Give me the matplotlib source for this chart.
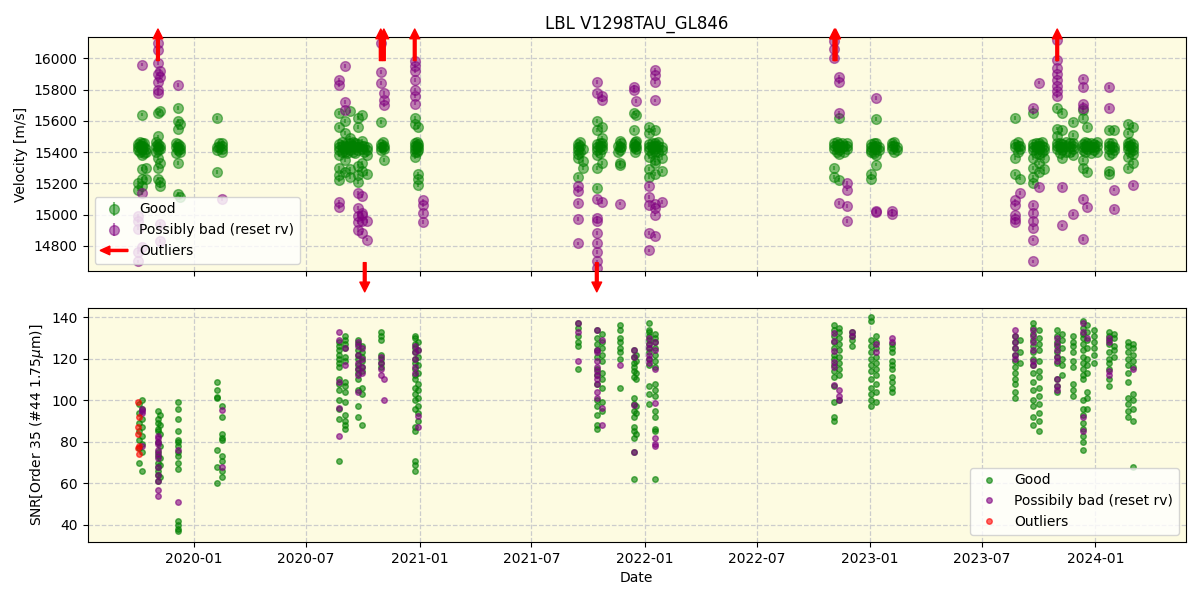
import numpy as np
import pandas as pd
import matplotlib
matplotlib.use("Agg")
import matplotlib.pyplot as plt
import matplotlib.dates as mdates
import matplotlib.patches as mpatches
from matplotlib.legend_handler import HandlerPatch

# ---------------- velocity panel data (per night) ----------------
good_rv_nights = [
    "2019-10-03", "2019-10-09", "2019-10-15", "2019-11-04", "2019-11-07",
    "2019-12-06", "2019-12-09", "2020-02-07", "2020-02-15",
    "2020-08-24", "2020-09-02", "2020-09-10", "2020-09-23", "2020-09-29",
    "2020-10-07", "2020-10-31", "2020-11-05", "2020-12-24", "2020-12-30",
    "2021-09-14", "2021-09-22", "2021-10-16", "2021-10-24", "2021-11-21",
    "2021-12-14", "2021-12-18", "2022-01-08", "2022-01-17", "2022-01-28",
    "2022-11-04", "2022-11-12", "2022-11-24", "2023-01-03", "2023-01-11",
    "2023-01-16", "2023-02-06", "2023-02-13",
    "2023-08-24", "2023-09-01", "2023-09-22", "2023-10-02", "2023-10-10",
    "2023-10-31", "2023-11-08", "2023-11-25", "2023-12-11", "2023-12-19",
    "2023-12-30", "2024-01-23", "2024-01-31", "2024-02-22", "2024-03-02",
    # extra nights filling the dense blobs near 15430 m/s
    "2019-10-06", "2019-10-12", "2019-11-01", "2019-12-03", "2020-02-11",
    "2020-08-28", "2020-09-06", "2020-09-15", "2020-09-19", "2020-10-03",
    "2020-11-02", "2020-12-27",
    "2021-09-18", "2021-10-20", "2021-11-18", "2021-11-24", "2021-12-16",
    "2022-01-12", "2022-01-22",
    "2022-11-08", "2022-11-16", "2022-11-20", "2023-01-07", "2023-02-09",
    "2023-08-28", "2023-09-26", "2023-10-06", "2023-11-04", "2023-11-15",
    "2023-11-20", "2023-12-15", "2023-12-25", "2024-01-03", "2024-01-27",
    "2024-02-26",
]
good_rv = [
    [15430, 15410, 15450, 15160, 15200],
    [15440, 15420, 15460, 15640, 15290, 15230, 15180, 15380],
    [15420, 15400, 15300, 15230],
    [15430, 15410, 15450, 15650, 15360, 15300, 15500, 15230],
    [15420, 15440, 15660, 15330, 15185, 15210],
    [15430, 15410, 15450, 15680, 15600, 15550, 15330, 15130],
    [15420, 15440, 15400, 15580, 15110],
    [15430, 15410, 15620, 15270],
    [15440, 15420, 15460, 15400],
    [15430, 15410, 15450, 15650, 15560, 15300, 15250, 15220, 15380],
    [15440, 15420, 15400, 15600, 15520, 15270, 15350],
    [15430, 15460, 15410, 15660, 15490, 15240, 15290],
    [15430, 15410, 15450, 15620, 15560, 15310, 15250, 15210],
    [15420, 15440, 15470, 15640, 15280, 15330],
    [15430, 15410, 15380, 15260],
    [15430, 15450, 15410, 15590],
    [15420, 15440, 15350],
    [15440, 15420, 15460, 15400, 15620, 15580, 15370],
    [15430, 15450, 15410, 15560, 15260, 15230, 15190],
    [15430, 15410, 15450, 15390, 15360, 15240],
    [15420, 15300, 15340],
    [15430, 15410, 15380, 15600, 15540, 15300, 15170, 15450],
    [15440, 15420, 15460, 15560, 15330, 15490],
    [15430, 15410, 15470, 15330, 15320],
    [15430, 15450, 15650, 15540],
    [15440, 15420, 15640, 15470],
    [15430, 15410, 15450, 15560, 15370, 15290, 15240, 15520],
    [15440, 15420, 15460, 15400, 15540, 15330, 15260, 15350],
    [15430, 15410, 15360, 15280],
    [15440, 15420, 15460, 15300, 15240],
    [15430, 15410, 15450, 15620, 15390, 15220],
    [15440, 15420, 15460],
    [15430, 15410, 15450, 15400, 15260, 15230],
    [15440, 15420, 15460, 15610, 15320, 15380],
    [15430, 15410],
    [15440, 15420, 15460],
    [15430, 15410],
    [15430, 15450, 15620, 15360, 15260],
    [15440, 15420, 15230],
    [15430, 15410, 15450, 15650, 15360, 15300, 15240, 15200],
    [15440, 15420, 15460, 15390, 15330, 15270],
    [15430, 15410, 15360, 15290],
    [15440, 15420, 15460, 15680, 15550, 15500],
    [15430, 15450, 15410, 15650, 15540, 15360],
    [15440, 15420, 15460, 15590, 15510, 15380],
    [15430, 15410, 15450, 15670, 15620, 15350, 15300],
    [15440, 15420, 15460, 15560, 15270],
    [15430, 15410, 15450],
    [15440, 15420, 15460, 15540, 15280, 15260, 15380],
    [15430, 15410, 15540],
    [15440, 15420, 15460, 15580, 15520, 15370, 15300],
    [15430, 15410, 15450, 15560, 15330, 15390],
    [15440, 15400, 15465], [15430, 15395, 15460], [15440, 15400, 15465],
    [15435, 15395, 15460], [15430, 15460],
    [15440, 15400, 15465], [15435, 15395, 15460], [15440, 15400, 15465],
    [15430, 15395, 15460], [15440, 15400],
    [15435, 15465], [15440, 15400, 15465],
    [15440, 15400, 15465], [15435, 15395, 15460], [15440, 15400],
    [15430, 15460], [15440, 15400, 15465],
    [15435, 15395, 15460], [15440, 15400, 15465],
    [15440, 15400, 15465], [15435, 15460], [15440, 15400],
    [15435, 15395, 15460], [15440, 15400, 15465],
    [15440, 15400, 15465], [15435, 15395, 15460], [15440, 15400, 15465],
    [15435, 15395, 15460], [15440, 15400, 15465],
    [15435, 15460, 15400], [15440, 15400, 15465], [15435, 15395, 15460],
    [15440, 15400, 15465], [15435, 15395, 15460],
    [15440, 15400, 15465],
]

bad_rv_nights = [
    "2019-10-03", "2019-10-09", "2019-11-04", "2019-11-07", "2019-12-06", "2020-02-15",
    "2020-08-24", "2020-09-02", "2020-09-23", "2020-09-29", "2020-10-07",
    "2020-10-31", "2020-11-05", "2020-12-24", "2021-01-07",
    "2021-09-14", "2021-10-16", "2021-10-24", "2021-11-21", "2021-12-14",
    "2021-12-18", "2022-01-08", "2022-01-17", "2022-01-28",
    "2022-11-04", "2022-11-12", "2022-11-24", "2023-01-11", "2023-02-06",
    "2023-08-24", "2023-09-01", "2023-09-22", "2023-10-02", "2023-10-31",
    "2023-11-08", "2023-11-25", "2023-12-11", "2023-12-19", "2024-01-23",
    "2024-01-31", "2024-03-02",
]
bad_rv = [
    [14990, 14960, 14700, 14760, 14910],
    [15960, 15140, 14790],
    [15900, 15850, 15800, 16050, 16100, 15780, 15970],
    [15920, 15880, 14940, 14830],
    [15830],
    [15100],
    [15860, 15830, 15050, 15080],
    [15950, 15720, 15670],
    [15140, 15040, 14990, 14950, 14900],
    [15120, 15000, 15010, 14960, 14880],
    [14840, 14960],
    [16100, 15910, 15840],
    [15780, 15730, 15700],
    [15985, 15950, 15920, 15860, 15800, 15760, 15710],
    [15090, 15060, 15010, 14950],
    [15180, 15150, 15075, 14970, 14815],
    [15850, 15780, 15100, 14980, 14960, 14880, 14820, 14760, 14700, 14660],
    [15760, 15730, 15080],
    [15070],
    [15815, 15795],
    [15725],
    [15185, 15110, 15060, 14880, 14770],
    [15925, 15890, 15850, 15730, 15070, 15040, 15000, 14865],
    [15080],
    [16110, 16060, 16000],
    [15880, 15850, 15650, 15075],
    [15200, 15160, 15055, 14960],
    [15745, 15025, 15015],
    [15025, 15005],
    [15060, 15000, 14970, 15090, 14950],
    [15140],
    [15680, 15060, 15010, 14960, 14915, 14840, 14700],
    [15175, 15845],
    [16120, 15990, 15940, 15900, 15860, 15820, 15790, 15760],
    [15175, 14930],
    [15005],
    [15870, 15815, 15710, 15680, 15100, 14845],
    [15050],
    [15815, 15680],
    [15160, 15035],
    [15190],
]

# outliers outside the velocity range (drawn as arrows)
up_outlier_dates = ["2019-11-04", "2020-10-30", "2020-11-04", "2020-12-24",
                    "2022-11-04", "2022-11-06", "2023-10-31"]
down_outlier_dates = ["2020-10-04", "2021-10-15"]

# ---------------- SNR panel data (per night) ----------------
good_snr_nights = [
    "2019-10-05", "2019-10-09", "2019-11-04", "2019-11-07", "2019-12-06",
    "2020-02-07", "2020-02-15",
    "2020-08-24", "2020-09-02", "2020-09-23", "2020-09-29", "2020-10-31",
    "2020-12-24", "2020-12-30",
    "2021-09-14", "2021-10-16", "2021-10-24", "2021-11-21", "2021-12-14",
    "2021-12-18", "2022-01-08", "2022-01-17",
    "2022-11-04", "2022-11-12", "2022-12-03", "2023-01-03", "2023-01-11",
    "2023-02-06",
    "2023-08-24", "2023-09-01", "2023-09-22", "2023-10-02", "2023-10-31",
    "2023-11-08", "2023-11-25", "2023-12-11", "2023-12-19", "2023-12-30",
    "2024-01-23", "2024-01-31", "2024-02-22", "2024-03-02",
]
good_snr = [
    [98, 94, 89, 85, 81, 77, 70],
    [100, 96, 91, 87, 83, 79, 75, 66],
    [95, 91, 89, 86, 85, 80, 75, 73, 70, 68, 66, 64, 61],
    [93, 88, 84, 78, 72, 69, 63],
    [99, 96, 91, 85, 81, 80, 78, 75, 73, 70, 67, 42, 40, 38, 37],
    [109, 105, 101.5, 101, 76, 68, 60],
    [97, 92, 84, 82, 81, 73, 71, 66, 63],
    [128, 126, 124, 122, 120, 118, 116, 110, 108, 105, 100, 96, 91, 71],
    [131, 129, 127, 125, 121, 119, 109, 107, 104, 99, 93, 90, 88, 86],
    [129, 127, 124, 122, 120, 117, 115, 113, 110, 105, 97, 92],
    [126, 123, 121, 119, 116, 114, 106, 103, 88],
    [133, 131, 129, 122, 120, 118, 116],
    [131, 130, 127, 125, 123, 120, 118, 115, 112, 110, 106, 103, 100, 96, 87, 85, 71, 69, 66],
    [128, 124, 121, 117, 113, 108, 105, 101, 97, 94, 90],
    [137, 135, 131, 128, 126, 115],
    [134, 130, 127, 124, 121, 115, 112, 108, 100, 97, 93, 88, 86],
    [132, 128, 125, 122, 119, 113, 110, 106, 99, 95],
    [136, 134, 130, 128, 125, 123, 120, 106],
    [124, 121, 118, 116, 114, 111, 101, 98, 95, 92, 87, 85, 82, 75, 62],
    [122, 119, 113, 110, 97, 94, 84],
    [137, 134, 133, 131, 129, 127, 125, 123, 120, 117, 107, 103, 98],
    [132, 130, 128, 125, 122, 119, 116, 108, 105, 102, 95, 92, 86, 85, 62],
    [136, 134, 131, 128, 125, 122, 120, 117, 114, 111, 107, 99, 92, 90],
    [135, 133, 130, 127, 124, 121, 118, 115, 112, 100],
    [133, 131, 129, 126],
    [140, 138, 129, 126, 123, 120, 117, 114, 110, 106, 103, 100, 97],
    [131, 128, 125, 121, 118, 115, 112, 108, 104, 99],
    [127, 125, 123, 119, 117, 115, 111, 109, 106, 104],
    [131, 128, 125, 122, 119, 116, 113, 110, 108, 104, 101],
    [129, 123, 118],
    [137, 135, 132, 129, 126, 123, 120, 117, 113, 109, 105, 100, 97, 92, 88],
    [134, 130, 127, 124, 119, 114, 111, 106, 102, 98, 94, 90, 85],
    [134, 131, 128, 126, 123, 121, 118, 110, 107, 104],
    [132, 129, 125, 120, 117, 112],
    [131, 128, 126, 123, 119, 116, 108, 105, 102],
    [138, 135, 132, 130, 127, 124, 121, 118, 115, 112, 110, 100, 96, 93, 89, 86, 83, 80, 76],
    [136, 133, 129, 125, 120, 117, 113, 104, 101, 96],
    [134, 131, 128, 125, 122, 118],
    [133, 131, 129, 127, 123, 120, 118, 115, 110, 107],
    [132, 130, 126, 124, 121],
    [128, 126, 123, 120, 117, 113, 109, 101, 98, 95, 92],
    [127, 125, 122, 119, 116, 103, 100, 96, 90, 68],
]

bad_snr_nights = [
    "2019-10-09", "2019-11-04", "2019-12-06", "2020-02-15",
    "2020-08-24", "2020-09-02", "2020-09-23", "2020-09-29", "2020-10-31",
    "2020-11-05", "2020-12-24", "2020-12-30",
    "2021-09-14", "2021-10-16", "2021-10-24", "2021-11-21", "2021-12-14",
    "2022-01-08", "2022-01-17",
    "2022-11-04", "2022-11-12", "2022-12-03", "2023-01-11", "2023-02-06",
    "2023-08-24", "2023-09-22", "2023-10-31", "2023-12-11", "2023-12-19",
    "2024-01-23", "2024-03-02",
]
bad_snr = [
    [96, 95, 94, 78],
    [83, 82, 80, 79, 76, 74, 72, 68, 64, 61, 57, 54],
    [76, 51],
    [95.5, 68],
    [132.7, 129, 108.6, 96.3, 83],
    [125, 117],
    [128, 126, 122, 118, 115, 112, 104],
    [125, 120, 116, 113],
    [121, 118, 115, 112],
    [110, 100],
    [126, 123, 120, 116, 113],
    [124, 92.6, 87],
    [137, 133, 119],
    [134, 124, 123, 119, 116, 114, 112, 110, 108, 104, 101],
    [129, 96.5, 88],
    [117],
    [124, 121, 97.6, 75],
    [130, 127, 125, 122, 120, 118],
    [128, 124, 115, 98.5, 82, 79, 78],
    [132.6, 128.5, 123.7, 118.5, 115.8, 107.3],
    [105, 102, 100],
    [133, 131],
    [127, 123],
    [130, 128],
    [134, 131, 128, 125, 122, 120],
    [134, 131, 128, 124, 119, 117],
    [130, 127, 124, 121, 119, 110, 107, 105],
    [137, 133, 92, 85],
    [130],
    [130, 128, 114, 112],
    [115],
]

out_snr_nights = ["2019-10-03", "2019-10-04"]
out_snr = [[99, 87, 84, 77], [92, 78, 74]]


def flatten(nights, values):
    d, v = [], []
    for n, vals in zip(nights, values):
        d += [n] * len(vals)
        v += list(vals)
    return pd.to_datetime(d), np.array(v, dtype=float)


def legend_arrow(legend, orig_handle, xdescent, ydescent, width, height, fontsize):
    return mpatches.FancyArrow(width, 0.5 * height, -width, 0,
                               length_includes_head=True, width=1.5,
                               head_width=0.9 * height, head_length=0.35 * width,
                               color="red")


g_d, g_v = flatten(good_rv_nights, good_rv)
b_d, b_v = flatten(bad_rv_nights, bad_rv)
gs_d, gs_v = flatten(good_snr_nights, good_snr)
bs_d, bs_v = flatten(bad_snr_nights, bad_snr)
os_d, os_v = flatten(out_snr_nights, out_snr)

fig, (ax1, ax2) = plt.subplots(2, 1, figsize=(12, 6), dpi=100, sharex=True)
fig.subplots_adjust(left=0.073, right=0.988, top=0.938, bottom=0.097, hspace=0.16)

bg = "#fdfbe1"
for ax in (ax1, ax2):
    ax.set_facecolor(bg)
    ax.grid(True, linestyle="--", color="#cccccc", linewidth=0.9)
    ax.set_axisbelow(True)

# top panel
h_good = ax1.errorbar(g_d, g_v, yerr=12, fmt="o", color="green", ms=7, alpha=0.5)
h_bad = ax1.errorbar(b_d, b_v, yerr=12, fmt="o", color="purple", ms=7, alpha=0.5)
ax1.set_ylim(14640, 16135)
ax1.set_yticks(np.arange(14800, 16001, 200))
ax1.set_ylabel("Velocity [m/s]")
ax1.set_title("LBL V1298TAU_GL846")

for d in up_outlier_dates:
    x = mdates.date2num(pd.Timestamp(d))
    ax1.annotate("", xy=(x, 1.035), xytext=(x, 0.90),
                 xycoords=("data", "axes fraction"),
                 arrowprops=dict(color="red", width=2, headwidth=7, headlength=7),
                 annotation_clip=False)
for d in down_outlier_dates:
    x = mdates.date2num(pd.Timestamp(d))
    ax1.annotate("", xy=(x, -0.09), xytext=(x, 0.035),
                 xycoords=("data", "axes fraction"),
                 arrowprops=dict(color="red", width=2, headwidth=7, headlength=7),
                 annotation_clip=False)

arrow_handle = mpatches.FancyArrow(0, 0, 1, 0, color="red")
ax1.legend([h_good, h_bad, arrow_handle],
           ["Good", "Possibly bad (reset rv)", "Outliers"],
           loc="lower left",
           handler_map={mpatches.FancyArrow: HandlerPatch(patch_func=legend_arrow)})

# bottom panel
ax2.plot(gs_d, gs_v, "o", color="green", ms=4, alpha=0.6, label="Good")
ax2.plot(bs_d, bs_v, "o", color="purple", ms=4, alpha=0.6, label="Possibily bad (reset rv)")
ax2.plot(os_d, os_v, "o", color="red", ms=4, alpha=0.6, label="Outliers")
ax2.set_ylim(31.9, 144.3)
ax2.set_yticks(np.arange(40, 141, 20))
ax2.set_ylabel("SNR[Order 35 (#44 1.75$\\mu$m)]")
ax2.set_xlabel("Date")
ax2.legend(loc="lower right")

ax2.xaxis.set_major_locator(mdates.MonthLocator(bymonth=[1, 7]))
ax2.xaxis.set_major_formatter(mdates.DateFormatter("%Y-%m"))
ax2.set_xlim(pd.Timestamp("2019-07-13"), pd.Timestamp("2024-05-26"))

fig.savefig("out.png")
